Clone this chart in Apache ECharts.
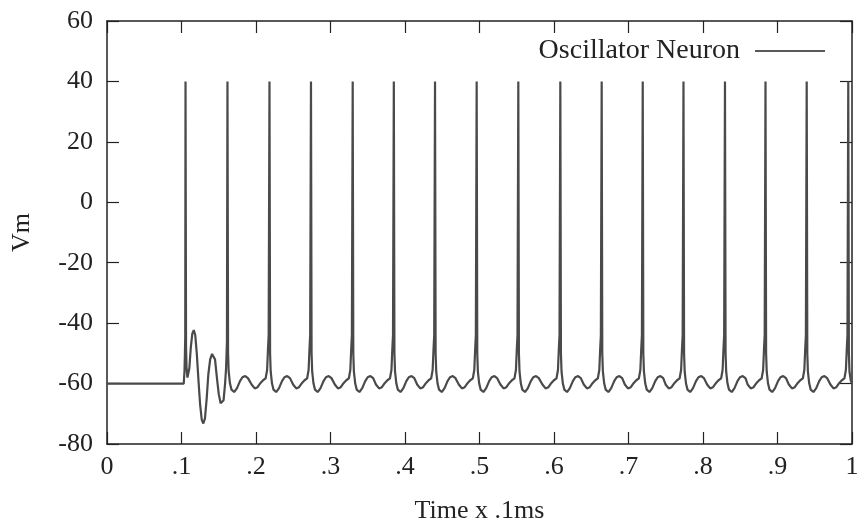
<!DOCTYPE html>
<html>
<head>
<meta charset="utf-8">
<script src="https://cdn.jsdelivr.net/npm/echarts@6/dist/echarts.min.js"></script>
<style>
html,body{margin:0;padding:0;background:#fff;}
#chart{width:866px;height:525px;}
</style>
</head>
<body>
<div id="chart"></div>
<script>
// ---- Data ----
const seriesName = 'Oscillator Neuron';
const xTickLabels = ['0', '.1', '.2', '.3', '.4', '.5', '.6', '.7', '.8', '.9', '1'];
const yTicks = [-80, -60, -40, -20, 0, 20, 40, 60];

// resting potential before stimulation [time, Vm]
const restPhase = [[0, -60], [0.1030, -60]];

// onset: first spike and damped oscillation
const onsetTransient = [
  [0.1040, -56], [0.1046, -50], [0.1050, -45], [0.1054, 40], [0.1061, -48], [0.1068, -55],
  [0.1080, -58], [0.1091, -58.3], [0.1105, -55], [0.1125, -48], [0.1145, -43.5], [0.1165, -42.3],
  [0.1185, -44], [0.1205, -50], [0.1228, -59], [0.1250, -67], [0.1272, -72], [0.1293, -73.2],
  [0.1315, -71.5], [0.1338, -65], [0.1360, -57], [0.1385, -52], [0.1410, -50.2], [0.1427, -50],
  [0.1450, -52], [0.1475, -58], [0.1500, -63.5], [0.1525, -66.5], [0.1544, -67.1], [0.1565, -65.5],
  [0.1585, -60], [0.1598, -55], [0.1605, -50], [0.1610, -46], [0.1617, 40]
];

// regular spiking
const spikeTrain = [
  [0.1625,-50],[0.1633,-56],[0.1651,-60],[0.1671,-62],[0.1707,-62.8],[0.1745,-61.5],[0.1785,-59.2],[0.1818,-57.9],[0.1855,-57.5],[0.1892,-58.2],
  [0.1941,-60.3],[0.1983,-61.6],[0.2021,-61.2],[0.2061,-59.8],[0.2095,-58.9],[0.2129,-58.3],[0.2149,-55.5],[0.2162,-48],[0.2170,-44],[0.2181,40],
  [0.2189,-50],[0.2197,-56],[0.2215,-60],[0.2235,-62],[0.2271,-62.8],[0.2309,-61.5],[0.2349,-59.2],[0.2382,-57.9],[0.2419,-57.5],[0.2456,-58.2],
  [0.2498,-60.3],[0.2540,-61.6],[0.2578,-61.2],[0.2618,-59.8],[0.2652,-58.9],[0.2686,-58.3],[0.2706,-55.5],[0.2719,-48],[0.2727,-44],[0.2738,40],
  [0.2746,-50],[0.2754,-56],[0.2772,-60],[0.2792,-62],[0.2828,-62.8],[0.2866,-61.5],[0.2906,-59.2],[0.2939,-57.9],[0.2976,-57.5],[0.3013,-58.2],
  [0.3058,-60.3],[0.3100,-61.6],[0.3138,-61.2],[0.3178,-59.8],[0.3212,-58.9],[0.3246,-58.3],[0.3266,-55.5],[0.3279,-48],[0.3287,-44],[0.3298,40],
  [0.3306,-50],[0.3314,-56],[0.3332,-60],[0.3352,-62],[0.3388,-62.8],[0.3426,-61.5],[0.3466,-59.2],[0.3499,-57.9],[0.3536,-57.5],[0.3573,-58.2],
  [0.3610,-60.3],[0.3652,-61.6],[0.3690,-61.2],[0.3730,-59.8],[0.3764,-58.9],[0.3798,-58.3],[0.3818,-55.5],[0.3831,-48],[0.3839,-44],[0.3850,40],
  [0.3858,-50],[0.3866,-56],[0.3884,-60],[0.3904,-62],[0.3940,-62.8],[0.3978,-61.5],[0.4018,-59.2],[0.4051,-57.9],[0.4088,-57.5],[0.4125,-58.2],
  [0.4163,-60.3],[0.4205,-61.6],[0.4243,-61.2],[0.4283,-59.8],[0.4317,-58.9],[0.4351,-58.3],[0.4371,-55.5],[0.4384,-48],[0.4392,-44],[0.4403,40],
  [0.4411,-50],[0.4419,-56],[0.4437,-60],[0.4457,-62],[0.4493,-62.8],[0.4531,-61.5],[0.4571,-59.2],[0.4604,-57.9],[0.4641,-57.5],[0.4678,-58.2],
  [0.4722,-60.3],[0.4764,-61.6],[0.4802,-61.2],[0.4842,-59.8],[0.4876,-58.9],[0.4910,-58.3],[0.4930,-55.5],[0.4943,-48],[0.4951,-44],[0.4962,40],
  [0.4970,-50],[0.4978,-56],[0.4996,-60],[0.5016,-62],[0.5052,-62.8],[0.5090,-61.5],[0.5130,-59.2],[0.5163,-57.9],[0.5200,-57.5],[0.5237,-58.2],
  [0.5281,-60.3],[0.5323,-61.6],[0.5361,-61.2],[0.5401,-59.8],[0.5435,-58.9],[0.5469,-58.3],[0.5489,-55.5],[0.5502,-48],[0.5510,-44],[0.5521,40],
  [0.5529,-50],[0.5537,-56],[0.5555,-60],[0.5575,-62],[0.5611,-62.8],[0.5649,-61.5],[0.5689,-59.2],[0.5722,-57.9],[0.5759,-57.5],[0.5796,-58.2],
  [0.5845,-60.3],[0.5887,-61.6],[0.5925,-61.2],[0.5965,-59.8],[0.5999,-58.9],[0.6033,-58.3],[0.6053,-55.5],[0.6066,-48],[0.6074,-44],[0.6085,40],
  [0.6093,-50],[0.6101,-56],[0.6119,-60],[0.6139,-62],[0.6175,-62.8],[0.6213,-61.5],[0.6253,-59.2],[0.6286,-57.9],[0.6323,-57.5],[0.6360,-58.2],
  [0.6400,-60.3],[0.6442,-61.6],[0.6480,-61.2],[0.6520,-59.8],[0.6554,-58.9],[0.6588,-58.3],[0.6608,-55.5],[0.6621,-48],[0.6629,-44],[0.6640,40],
  [0.6648,-50],[0.6656,-56],[0.6674,-60],[0.6694,-62],[0.6730,-62.8],[0.6768,-61.5],[0.6808,-59.2],[0.6841,-57.9],[0.6878,-57.5],[0.6915,-58.2],
  [0.6951,-60.3],[0.6993,-61.6],[0.7031,-61.2],[0.7071,-59.8],[0.7105,-58.9],[0.7139,-58.3],[0.7159,-55.5],[0.7172,-48],[0.7180,-44],[0.7191,40],
  [0.7199,-50],[0.7207,-56],[0.7225,-60],[0.7245,-62],[0.7281,-62.8],[0.7319,-61.5],[0.7359,-59.2],[0.7392,-57.9],[0.7429,-57.5],[0.7466,-58.2],
  [0.7498,-60.3],[0.7540,-61.6],[0.7578,-61.2],[0.7618,-59.8],[0.7652,-58.9],[0.7686,-58.3],[0.7706,-55.5],[0.7719,-48],[0.7727,-44],[0.7738,40],
  [0.7746,-50],[0.7754,-56],[0.7772,-60],[0.7792,-62],[0.7828,-62.8],[0.7866,-61.5],[0.7906,-59.2],[0.7939,-57.9],[0.7976,-57.5],[0.8013,-58.2],
  [0.8055,-60.3],[0.8097,-61.6],[0.8135,-61.2],[0.8175,-59.8],[0.8209,-58.9],[0.8243,-58.3],[0.8263,-55.5],[0.8276,-48],[0.8284,-44],[0.8295,40],
  [0.8303,-50],[0.8311,-56],[0.8329,-60],[0.8349,-62],[0.8385,-62.8],[0.8423,-61.5],[0.8463,-59.2],[0.8496,-57.9],[0.8533,-57.5],[0.8570,-58.2],
  [0.8599,-60.3],[0.8641,-61.6],[0.8679,-61.2],[0.8719,-59.8],[0.8753,-58.9],[0.8787,-58.3],[0.8807,-55.5],[0.8820,-48],[0.8828,-44],[0.8839,40],
  [0.8847,-50],[0.8855,-56],[0.8873,-60],[0.8893,-62],[0.8929,-62.8],[0.8967,-61.5],[0.9007,-59.2],[0.9040,-57.9],[0.9077,-57.5],[0.9114,-58.2],
  [0.9152,-60.3],[0.9194,-61.6],[0.9232,-61.2],[0.9272,-59.8],[0.9306,-58.9],[0.9340,-58.3],[0.9360,-55.5],[0.9373,-48],[0.9381,-44],[0.9392,40],
  [0.9400,-50],[0.9408,-56],[0.9426,-60],[0.9446,-62],[0.9482,-62.8],[0.9520,-61.5],[0.9560,-59.2],[0.9593,-57.9],[0.9630,-57.5],[0.9667,-58.2],
  [0.9710,-60.3],[0.9752,-61.6],[0.9790,-61.2],[0.9830,-59.8],[0.9864,-58.9],[0.9898,-58.3],[0.9918,-55.5],[0.9931,-48],[0.9939,-44],[0.9950,40]
];

// after the last spike, to the end of the recording
const tail = [[0.9958, -50], [0.9966, -56], [0.9984, -59], [1.0, -60]];

// ---- Chart ----
const FONT = 'Liberation Serif';
const TXT = '#222';
const AX = '#222';
const trace = restPhase.concat(onsetTransient, spikeTrain, tail);

const chart = echarts.init(document.getElementById('chart'), null, {renderer: 'canvas'});

const xCommon = {
  type: 'value', min: 0, max: 1, interval: 0.1,
  splitLine: {show: false},
  axisLine: {show: true, onZero: false, lineStyle: {color: AX, width: 1.5}},
  axisTick: {show: true, inside: true, length: 12, lineStyle: {color: AX, width: 1.2}}
};
const yCommon = {
  type: 'value', min: yTicks[0], max: yTicks[yTicks.length - 1], interval: 20,
  splitLine: {show: false},
  axisLine: {show: true, onZero: false, lineStyle: {color: AX, width: 1.5}},
  axisTick: {show: true, inside: true, length: 12, lineStyle: {color: AX, width: 1.2}}
};

chart.setOption({
  animation: false,
  backgroundColor: '#fff',
  textStyle: {fontFamily: FONT, color: TXT},
  grid: {left: 107, right: 14, top: 21, bottom: 81, containLabel: false, outerBoundsMode: 'none'},
  legend: {
    data: [{name: seriesName, icon: 'rect'}],
    right: 36, top: 32,
    align: 'right',
    itemWidth: 70, itemHeight: 1.6,
    itemStyle: {color: '#222', borderWidth: 0},
    lineStyle: {width: 0},
    textStyle: {fontFamily: FONT, fontSize: 28, color: TXT, padding: [0, 10, 0, 0]}
  },
  xAxis: [
    Object.assign({}, xCommon, {
      position: 'bottom',
      name: 'Time x .1ms', nameLocation: 'middle', nameGap: 54,
      nameTextStyle: {fontFamily: FONT, fontSize: 26, color: TXT},
      axisLabel: {show: true, margin: 10, fontFamily: FONT, fontSize: 26, color: TXT,
        formatter: function (v) { return xTickLabels[Math.round(v * 10)]; }}
    }),
    Object.assign({}, xCommon, {position: 'top', axisLabel: {show: false}})
  ],
  yAxis: [
    Object.assign({}, yCommon, {
      position: 'left',
      name: 'Vm', nameLocation: 'middle', nameGap: 72,
      nameTextStyle: {fontFamily: FONT, fontSize: 26, color: TXT},
      axisLabel: {show: true, margin: 14, fontFamily: FONT, fontSize: 26, color: TXT}
    }),
    Object.assign({}, yCommon, {position: 'right', axisLabel: {show: false}})
  ],
  series: [{
    name: seriesName,
    type: 'line',
    xAxisIndex: 0, yAxisIndex: 0,
    data: trace,
    symbol: 'none',
    showSymbol: false,
    smooth: false,
    lineStyle: {color: '#4a4a4a', width: 2.2},
    itemStyle: {color: '#222'}
  }]
});
</script>
</body>
</html>
